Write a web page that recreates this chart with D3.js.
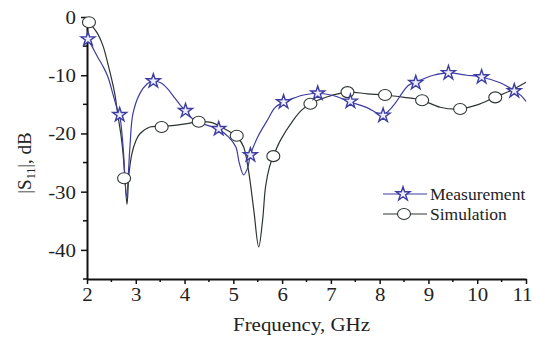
<!DOCTYPE html>
<html>
<head>
<meta charset="utf-8">
<script src="https://cdn.jsdelivr.net/npm/d3@7"></script>
<style>
  body { margin: 0; background: #fff; }
  svg text { font-family: "Liberation Serif", "Times New Roman", serif; fill: #222; }
</style>
</head>
<body>
<svg id="chart" width="534" height="341"></svg>
<script>
// measured |S11| (blue line + stars)
var measFreq = [2.0, 2.02, 2.1, 2.22, 2.33, 2.43, 2.53, 2.62, 2.67, 2.74, 2.81, 2.88, 2.94, 3.08, 3.23, 3.35, 3.51, 3.65, 3.78, 3.9, 4.02, 4.19, 4.35, 4.5, 4.7, 4.9, 5.05, 5.12, 5.21, 5.29, 5.35, 5.5, 5.7, 5.85, 6.03, 6.25, 6.44, 6.74, 7.0, 7.13, 7.4, 7.75, 7.95, 8.07, 8.2, 8.32, 8.45, 8.58, 8.73, 8.9, 9.1, 9.4, 9.79, 10.08, 10.47, 10.77, 10.9, 11.0];
var measDb = [-3.3, -3.8, -5.0, -6.9, -8.5, -10.3, -13.2, -15.8, -16.9, -22.3, -30.8, -22.3, -16.7, -13.2, -11.5, -11.0, -11.3, -12.3, -13.7, -15.0, -16.1, -17.7, -18.3, -18.7, -19.3, -20.6, -22.3, -25.0, -27.1, -26.0, -23.7, -20.6, -17.7, -15.6, -14.6, -13.9, -13.4, -13.1, -13.4, -13.7, -14.6, -15.6, -16.5, -16.8, -16.0, -14.8, -13.2, -11.8, -11.2, -10.6, -10.0, -9.6, -10.0, -10.3, -11.3, -12.7, -13.5, -14.5];
var measMarkFreq = [2.02, 2.67, 3.36, 4.02, 4.7, 5.35, 6.03, 6.73, 7.4, 8.07, 8.74, 9.41, 10.09, 10.76];
var measMarkDb = [-3.8, -16.8, -11.0, -16.1, -19.2, -23.7, -14.6, -13.1, -14.5, -16.9, -11.3, -9.6, -10.3, -12.7];

// simulated |S11| (dark line + circles)
var simFreq = [2.0, 2.04, 2.12, 2.22, 2.33, 2.43, 2.5, 2.57, 2.63, 2.7, 2.74, 2.78, 2.82, 2.86, 2.92, 3.0, 3.08, 3.29, 3.53, 3.8, 4.05, 4.29, 4.54, 4.8, 5.0, 5.09, 5.21, 5.31, 5.42, 5.52, 5.6, 5.66, 5.74, 5.82, 5.97, 6.23, 6.4, 6.58, 6.93, 7.34, 7.75, 8.11, 8.5, 8.87, 9.24, 9.65, 10.0, 10.36, 10.67, 11.0];
var simDb = [-0.4, -0.9, -1.7, -2.9, -5.0, -8.1, -10.5, -13.2, -16.7, -20.5, -23.5, -28.0, -32.2, -27.0, -23.5, -21.3, -20.1, -18.9, -18.8, -18.6, -18.3, -18.0, -18.1, -19.1, -20.1, -20.7, -22.3, -26.3, -33.2, -39.5, -34.9, -29.2, -25.8, -23.9, -21.1, -17.7, -16.0, -14.9, -13.7, -12.9, -13.2, -13.4, -13.8, -14.3, -15.5, -15.8, -15.1, -13.8, -12.7, -11.2];
var simMarkFreq = [2.04, 2.76, 3.53, 4.29, 5.07, 5.82, 6.58, 7.34, 8.11, 8.87, 9.65, 10.37];
var simMarkDb = [-0.9, -27.7, -18.9, -18.0, -20.4, -23.9, -14.9, -12.9, -13.4, -14.3, -15.8, -13.8];

var xTicks = [2, 3, 4, 5, 6, 7, 8, 9, 10, 11];
var yTicks = [0, -10, -20, -30, -40];

var measColor = '#3d3da2';
var simColor = '#2c3431';

var svg = d3.select('#chart');
var x = d3.scaleLinear().domain([2, 11]).range([87, 526]);
var y = d3.scaleLinear().domain([-45, 0]).range([279, 17]);

function pts(fs, ds) { return fs.map((f, i) => [f, ds[i]]); }

var line = d3.line()
    .x(d => x(d[0]))
    .y(d => y(d[1]))
    .curve(d3.curveCatmullRom.alpha(0.5));

// minor ticks first so axes draw on top
var yMinor = d3.range(-45, 0, 5).filter(v => v % 10 != 0);
svg.append('g').selectAll('line').data(yMinor).enter().append('line')
    .attr('x1', x(2) - 4).attr('x2', x(2))
    .attr('y1', d => y(d)).attr('y2', d => y(d))
    .attr('stroke', '#111').attr('stroke-width', 1.5);
var xMinor = d3.range(2.5, 11, 1);
svg.append('g').selectAll('line').data(xMinor).enter().append('line')
    .attr('x1', d => x(d)).attr('x2', d => x(d))
    .attr('y1', y(-45)).attr('y2', y(-45) + 3)
    .attr('stroke', '#111').attr('stroke-width', 1.5);

var yAxis = svg.append('g')
    .attr('transform', 'translate(' + x(2) + ',0)')
    .call(d3.axisLeft(y).tickValues(yTicks).tickSize(6).tickSizeOuter(0).tickFormat(d => String(d)));
var xAxis = svg.append('g')
    .attr('transform', 'translate(0,' + y(-45) + ')')
    .call(d3.axisBottom(x).tickValues(xTicks).tickSize(5).tickSizeOuter(0).tickFormat(d => String(d)));

[yAxis, xAxis].forEach(a => {
    a.select('.domain').attr('stroke', '#111').attr('stroke-width', 2);
    a.selectAll('.tick line').attr('stroke', '#111').attr('stroke-width', 1.5);
    a.selectAll('.tick text').style('font-size', '19px').attr('fill', '#222');
});
// the original lettering is a little wider than Times at the same height
yAxis.selectAll('.tick text').attr('x', -10).attr('dy', '0.34em').attr('transform', 'scale(1.1,1)');
xAxis.selectAll('.tick text').attr('y', 8).attr('dy', '0.75em').attr('transform', 'scale(1.1,1)');
xAxis.selectAll('.tick').filter(d => d == 11).select('text')
    .attr('text-anchor', 'end').attr('x', 5.5);

// curves
svg.append('path').datum(pts(simFreq, simDb))
    .attr('d', line).attr('fill', 'none').attr('stroke', simColor).attr('stroke-width', 1.2);
svg.append('path').datum(pts(measFreq, measDb))
    .attr('d', line).attr('fill', 'none').attr('stroke', measColor).attr('stroke-width', 1.2);

var star = d3.symbol().type(d3.symbolStar).size(60);

svg.append('g').selectAll('ellipse').data(pts(simMarkFreq, simMarkDb)).enter().append('ellipse')
    .attr('cx', d => x(d[0])).attr('cy', d => y(d[1]))
    .attr('rx', 6.5).attr('ry', 5.5)
    .attr('fill', '#fff').attr('stroke', simColor).attr('stroke-width', 1.1);
svg.append('g').selectAll('path').data(pts(measMarkFreq, measMarkDb)).enter().append('path')
    .attr('transform', d => 'translate(' + x(d[0]) + ',' + y(d[1]) + ')')
    .attr('d', star)
    .attr('fill', '#eef').attr('stroke', measColor).attr('stroke-width', 1.4);

// legend
var legend = [
    { name: 'Measurement', color: measColor, mark: 'star', y: 194 },
    { name: 'Simulation', color: simColor, mark: 'circle', y: 214 }
];
var lg = svg.append('g').selectAll('g').data(legend).enter().append('g')
    .attr('transform', d => 'translate(383,' + d.y + ')');
lg.append('line').attr('x1', 0).attr('x2', 44)
    .attr('stroke', d => d.color).attr('stroke-width', 1.2);
lg.filter(d => d.mark == 'star').append('path').attr('d', star)
    .attr('transform', 'translate(20,0)')
    .attr('fill', '#eef').attr('stroke', measColor).attr('stroke-width', 1.4);
lg.filter(d => d.mark == 'circle').append('ellipse')
    .attr('cx', 21).attr('rx', 6.5).attr('ry', 5.5)
    .attr('fill', '#fff').attr('stroke', simColor).attr('stroke-width', 1.1);
lg.append('text').attr('x', 47).attr('dy', '0.33em')
    .style('font-size', '17.5px').text(d => d.name);

// axis titles
svg.append('text')
    .attr('x', 233).attr('y', 331)
    .attr('textLength', 137).attr('lengthAdjust', 'spacingAndGlyphs')
    .style('font-size', '19px')
    .text('Frequency, GHz');

var yt = svg.append('text')
    .attr('transform', 'translate(31,163) rotate(-90)')
    .attr('text-anchor', 'middle')
    .style('font-size', '19px');
yt.append('tspan').text('|S');
yt.append('tspan').attr('dy', 4).style('font-size', '12px').text('11');
yt.append('tspan').attr('dy', -4).text('|, dB');
</script>
</body>
</html>
